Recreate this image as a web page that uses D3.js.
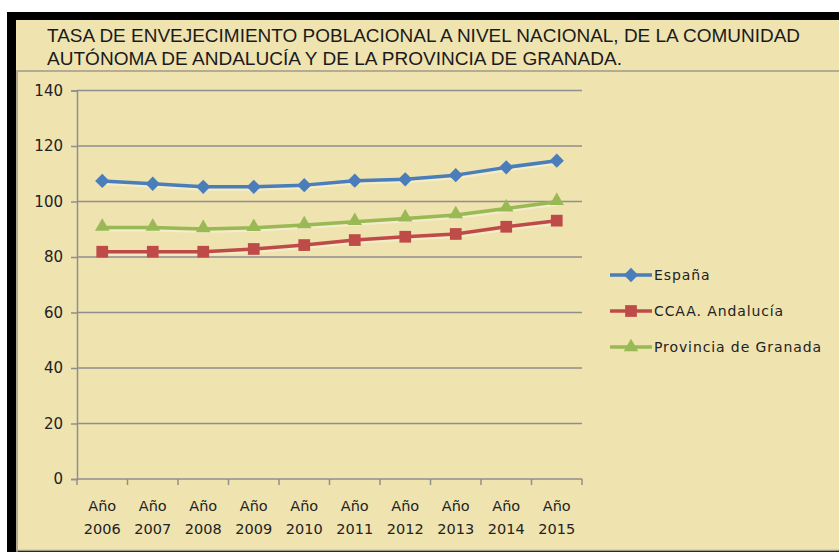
<!DOCTYPE html>
<html>
<head>
<meta charset="utf-8">
<script src="https://cdn.jsdelivr.net/npm/d3@7"></script>
<style>
  body { margin: 0; background: #fff; }
  svg text { font-family: "DejaVu Sans", Verdana, sans-serif; fill: #222; }
</style>
</head>
<body>
<div class="chart"></div>
<script>
// data
var years = ["2006", "2007", "2008", "2009", "2010", "2011", "2012", "2013", "2014", "2015"];
var espana = [107.4, 106.4, 105.3, 105.3, 105.9, 107.5, 108.0, 109.5, 112.3, 114.7];
var andalucia = [81.9, 81.9, 81.9, 82.9, 84.3, 86.1, 87.3, 88.3, 90.9, 93.1];
var granada = [90.6, 90.6, 90.1, 90.5, 91.5, 92.7, 93.9, 95.1, 97.5, 99.9];
var seriesNames = ["España", "CCAA. Andalucía", "Provincia de Granada"];
var yTicks = [0, 20, 40, 60, 80, 100, 120, 140];
var titleLines = [
  "TASA DE ENVEJECIMIENTO POBLACIONAL A NIVEL NACIONAL, DE LA COMUNIDAD",
  "AUTÓNOMA DE ANDALUCÍA Y DE LA PROVINCIA DE GRANADA."
];

var svgWidth = 839;
var svgHeight = 552;

var svg = d3.select(".chart").append("svg")
  .attr("width", svgWidth)
  .attr("height", svgHeight);

// frame: black border, beige fill, inner plot box
svg.append("rect").attr("x", 7).attr("y", 12).attr("width", 840).attr("height", 560).attr("fill", "#000");
svg.append("rect").attr("x", 16).attr("y", 20).attr("width", 830).attr("height", 530).attr("fill", "#EFE3B0");
svg.append("path")
  .attr("d", "M17,560 V71 H839")
  .attr("fill", "none").attr("stroke", "#a09a88").attr("stroke-width", 1.5);
svg.append("line").attr("x1", 16).attr("x2", 839).attr("y1", 550.5).attr("y2", 550.5)
  .attr("stroke", "#a09a88").attr("stroke-width", 1.5);

// title
svg.selectAll(".title").data(titleLines).enter().append("text")
  .attr("class", "title")
  .attr("x", 47)
  .attr("y", function(d, i) { return 42 + i * 23; })
  .style("font-family", "'Liberation Sans', Arial, sans-serif")
  .style("font-size", "18.5px")
  .style("fill", "#1a1a1a")
  .attr("textLength", function(d, i) { return i === 0 ? 753 : 575; })
  .attr("lengthAdjust", "spacingAndGlyphs")
  .text(function(d) { return d; });

// scales
var x = d3.scaleBand().domain(years).range([77, 582]);
var y = d3.scaleLinear().domain([0, 140]).range([479, 90.5]);
var cx = function(d, i) { return x(years[i]) + x.bandwidth() / 2; };

var gridColor = "#8f8f8f";

// gridlines
svg.append("g").selectAll("line").data(yTicks.filter(function(t) { return t > 0; })).enter().append("line")
  .attr("x1", 77).attr("x2", 582)
  .attr("y1", function(d) { return y(d); }).attr("y2", function(d) { return y(d); })
  .attr("stroke", gridColor).attr("stroke-width", 1.5);

// y axis
var leftAxis = d3.axisLeft(y).tickValues(yTicks).tickSize(6).tickPadding(8);
var gy = svg.append("g").attr("transform", "translate(77,0)").call(leftAxis);
gy.select(".domain").attr("stroke", gridColor).attr("stroke-width", 1.5);
gy.selectAll(".tick line").attr("stroke", gridColor).attr("stroke-width", 1.5);
gy.selectAll(".tick text").style("font-size", "15px").style("font-family", "'DejaVu Sans', sans-serif").attr("fill", "#222");

// x axis: ticks on the band edges, labels centred
var edges = years.map(function(d) { return x(d); }).concat([x.range()[1]]);
var gx = svg.append("g").attr("transform", "translate(0," + y(0) + ")");
gx.append("line").attr("x1", 77).attr("x2", 582).attr("stroke", gridColor).attr("stroke-width", 1.5);
gx.selectAll(".edge").data(edges).enter().append("line")
  .attr("x1", function(d) { return d; }).attr("x2", function(d) { return d; })
  .attr("y1", 0).attr("y2", 6)
  .attr("stroke", gridColor).attr("stroke-width", 1.5);
var xl = gx.selectAll(".xlab").data(years).enter().append("text")
  .attr("text-anchor", "middle")
  .style("font-size", "14.5px");
xl.append("tspan").attr("x", function(d) { return x(d) + x.bandwidth() / 2; }).attr("y", 32).text("Año");
xl.append("tspan").attr("x", function(d) { return x(d) + x.bandwidth() / 2; }).attr("y", 55).text(function(d) { return d; });

// series
var series = [
  { name: seriesNames[0], values: espana, color: "#4A7EBB", marker: "diamond" },
  { name: seriesNames[1], values: andalucia, color: "#BE4B48", marker: "square" },
  { name: seriesNames[2], values: granada, color: "#98B954", marker: "triangle" }
];

var markerSymbol = function(m) {
  if (m === "diamond") return d3.symbol().type(d3.symbolDiamond2).size(130)();
  if (m === "square") return d3.symbol().type(d3.symbolSquare2).size(175)();
  return d3.symbol().type(d3.symbolTriangle2).size(150)();
};

var line = d3.line()
  .x(function(d, i) { return cx(d, i); })
  .y(function(d) { return y(d); });

// faint white shadow under the lines
series.forEach(function(s) {
  svg.append("path").datum(s.values)
    .attr("d", line)
    .attr("transform", "translate(1,3)")
    .attr("fill", "none").attr("stroke", "#fff").attr("stroke-opacity", 0.35).attr("stroke-width", 2);
});

series.forEach(function(s) {
  svg.append("path").datum(s.values)
    .attr("d", line)
    .attr("fill", "none").attr("stroke", s.color).attr("stroke-width", 3.5)
    .attr("stroke-linejoin", "round");
  svg.append("g").selectAll("path").data(s.values).enter().append("path")
    .attr("d", markerSymbol(s.marker))
    .attr("transform", function(d, i) {
      var dy = s.marker === "triangle" ? -1 : 0;
      return "translate(" + cx(d, i) + "," + (y(d) + dy) + ")";
    })
    .attr("fill", s.color);
});

// legend
var legend = svg.append("g").selectAll("g").data(series).enter().append("g")
  .attr("transform", function(d, i) { return "translate(610," + (275 + i * 36) + ")"; });
legend.append("line").attr("x1", 0).attr("x2", 42)
  .attr("stroke", function(d) { return d.color; }).attr("stroke-width", 3.5);
legend.append("path")
  .attr("d", function(d) { return markerSymbol(d.marker); })
  .attr("transform", "translate(21,0)")
  .attr("fill", function(d) { return d.color; });
legend.append("text")
  .attr("x", 44).attr("y", 5)
  .style("font-size", "14px")
  .style("letter-spacing", "0.9px")
  .text(function(d) { return d.name; });
</script>
</body>
</html>
